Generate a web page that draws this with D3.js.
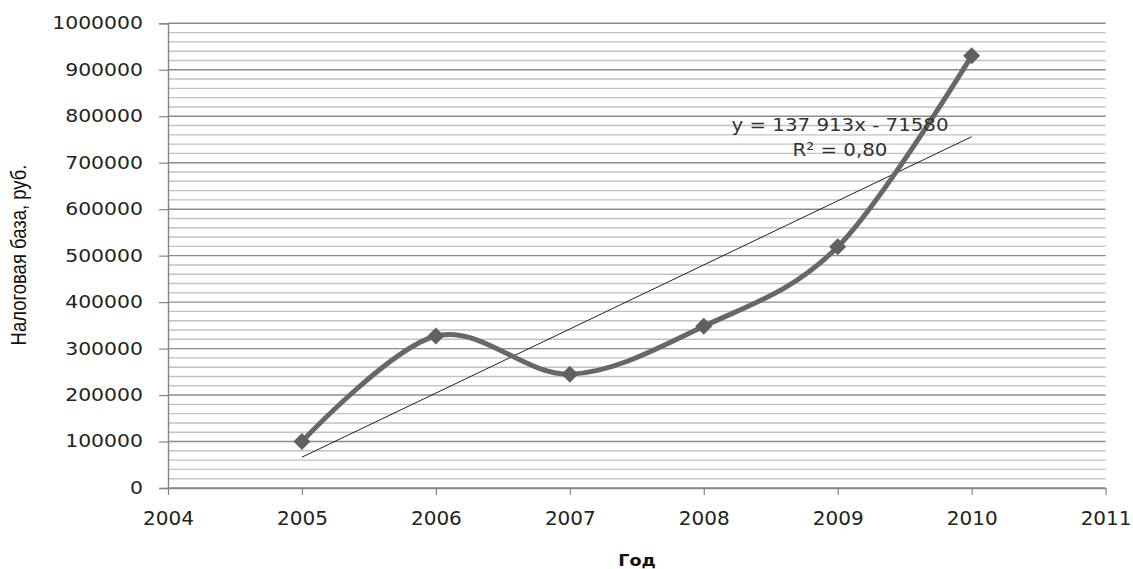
<!DOCTYPE html>
<html>
<head>
<meta charset="utf-8">
<script src="https://cdn.jsdelivr.net/npm/d3@7"></script>
<style>
    body { margin: 0; background: #fff; }
    .wide { transform-box: fill-box; transform-origin: right center; transform: scaleX(1.2); }
    .wideC { transform-box: fill-box; transform-origin: center; transform: scaleX(1.1); }
</style>
</head>
<body>
<svg id="chart" width="1133" height="569"></svg>
<script>
// data
let years = [2005, 2006, 2007, 2008, 2009, 2010]
let values = [100000, 327000, 245000, 348000, 519000, 930000]
// linear trend y = a*x + b, x = index of the year (1..6)
let trendCoef = [137913, -71580]
let trendLabel = ["y = 137 913x - 71580", "R² = 0,80"]
let xTicks = [2004, 2005, 2006, 2007, 2008, 2009, 2010, 2011]
let yTicks = [0, 100000, 200000, 300000, 400000, 500000, 600000, 700000, 800000, 900000, 1000000]
let yMinorTicks = d3.range(0, 1000001, 20000)

let plotVars = ({
    left: 168,
    top: 23.3,
    right: 1105.6,
    bottom: 488
})

let svg = d3.select("#chart")

let xScale = d3.scaleLinear()
    .domain([2004, 2011])
    .range([plotVars.left, plotVars.right])

let yScale = d3.scaleLinear()
    .domain([0, 1000000])
    .range([plotVars.bottom, plotVars.top])

// gridlines, minor then major
svg.append("g")
    .selectAll("line")
    .data(yMinorTicks.filter(function (d) { return d % 100000 != 0 }))
    .enter()
    .append("line")
    .attr("x1", plotVars.left)
    .attr("x2", plotVars.right)
    .attr("y1", function (d) { return yScale(d) })
    .attr("y2", function (d) { return yScale(d) })
    .attr("stroke", "#c2c2c2")
    .attr("stroke-width", 1.4)

svg.append("g")
    .selectAll("line")
    .data(yTicks)
    .enter()
    .append("line")
    .attr("x1", plotVars.left)
    .attr("x2", plotVars.right)
    .attr("y1", function (d) { return yScale(d) })
    .attr("y2", function (d) { return yScale(d) })
    .attr("stroke", "#8c8c8c")
    .attr("stroke-width", 1.4)

// y axis
let yAxis = d3.axisLeft(yScale)
    .tickValues(yTicks)
    .tickFormat(function (d) { return String(d) })
    .tickSize(9)
    .tickPadding(16)

let yAxisGroup = svg.append("g")
    .attr("transform", "translate(" + plotVars.left + ",0)")
    .call(yAxis)
yAxisGroup.select(".domain").attr("stroke", "#868686").attr("stroke-width", 1.4)
yAxisGroup.selectAll(".tick line").attr("stroke", "#868686").attr("stroke-width", 1.2)
yAxisGroup.selectAll(".tick text")
    .attr("class", "wide")
    .style("font-family", "'DejaVu Sans', sans-serif")
    .style("font-size", "17px")
    .attr("fill", "#222")

// x axis
let xAxis = d3.axisBottom(xScale)
    .tickValues(xTicks)
    .tickFormat(d3.format("d"))
    .tickSize(7)
    .tickSizeOuter(0)
    .tickPadding(16)

let xAxisGroup = svg.append("g")
    .attr("transform", "translate(0," + plotVars.bottom + ")")
    .call(xAxis)
xAxisGroup.select(".domain").attr("stroke", "#868686").attr("stroke-width", 1.4)
xAxisGroup.selectAll(".tick line").attr("stroke", "#868686").attr("stroke-width", 1.2)
xAxisGroup.selectAll(".tick text")
    .style("font-family", "'DejaVu Sans', sans-serif")
    .style("font-size", "20px")
    .attr("fill", "#222")

// axis labels
svg.append("text")
    .attr("transform", "translate(26, 255) rotate(-90) scale(0.84, 1)")
    .style("text-anchor", "middle")
    .style("font-family", "'Liberation Sans Narrow', 'Arial Narrow', 'Liberation Sans', sans-serif")
    .style("font-size", "22px")
    .attr("fill", "#111")
    .text("Налоговая база, руб.")

svg.append("text")
    .attr("x", 637)
    .attr("y", 566)
    .attr("class", "wideC")
    .style("text-anchor", "middle")
    .style("font-family", "'DejaVu Sans', sans-serif")
    .style("font-weight", "bold")
    .style("font-size", "16px")
    .attr("fill", "#111")
    .text("Год")

// trend line
svg.append("line")
    .attr("x1", xScale(years[0]))
    .attr("x2", xScale(years[years.length - 1]))
    .attr("y1", yScale(trendCoef[0] * 1 + trendCoef[1]))
    .attr("y2", yScale(trendCoef[0] * years.length + trendCoef[1]))
    .attr("stroke", "#222")
    .attr("stroke-width", 1)

// smoothed series line
let line = d3.line()
    .x(function (d, i) { return xScale(years[i]) })
    .y(function (d) { return yScale(d) })
    .curve(d3.curveCardinal.tension(0))

svg.append("path")
    .datum(values)
    .attr("d", line)
    .attr("fill", "none")
    .attr("stroke", "#676767")
    .attr("stroke-width", 5)

// diamond markers
svg.selectAll("mymarker")
    .data(values)
    .enter()
    .append("path")
    .attr("transform", function (d, i) { return "translate(" + xScale(years[i]) + "," + yScale(d) + ")" })
    .attr("d", "M0,-8.5L8.5,0L0,8.5L-8.5,0Z")
    .attr("fill", "#606060")

// trend equation
svg.selectAll("mytrend")
    .data(trendLabel)
    .enter()
    .append("text")
    .attr("x", 840)
    .attr("y", function (d, i) { return 131 + i * 25 })
    .attr("class", "wideC")
    .style("text-anchor", "middle")
    .style("font-family", "'DejaVu Sans', sans-serif")
    .style("font-size", "18px")
    .attr("fill", "#333")
    .text(function (d) { return d })
</script>
</body>
</html>
